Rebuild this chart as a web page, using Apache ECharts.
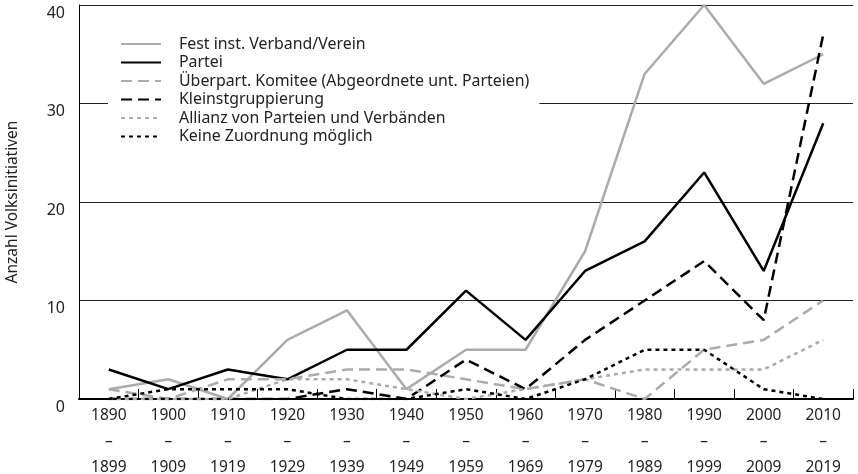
<!DOCTYPE html>
<html>
<head>
<meta charset="utf-8">
<script src="https://cdn.jsdelivr.net/npm/echarts@6/dist/echarts.min.js"></script>
<style>
  html, body { margin: 0; padding: 0; background: #fff; }
  #chart { width: 858px; height: 474px; }
</style>
</head>
<body>
<div id="chart"></div>
<script>
const decades = ['1890', '1900', '1910', '1920', '1930', '1940', '1950', '1960', '1970', '1980', '1990', '2000', '2010'];
const decadeEnds = ['1899', '1909', '1919', '1929', '1939', '1949', '1959', '1969', '1979', '1989', '1999', '2009', '2019'];

const verband = [1, 2, 0, 6, 9, 1, 5, 5, 15, 33, 40, 32, 35];
const partei = [3, 1, 3, 2, 5, 5, 11, 6, 13, 16, 23, 13, 28];
const komitee = [1, 0, 2, 2, 3, 3, 2, 1, 2, 0, 5, 6, 10];
const kleinst = [0, 0, 0, 0, 1, 0, 4, 1, 6, 10, 14, 8, 37];
const allianz = [0, 0, 0, 2, 2, 1, 0, 1, 2, 3, 3, 3, 6];
const keine = [0, 1, 1, 1, 0, 0, 1, 0, 2, 5, 5, 1, 0];

const GRAY = '#ababab';
const FONT = '"Noto Sans", sans-serif';

const chart = echarts.init(document.getElementById('chart'));

const mkSeries = (name, data, color, type) => ({
  name,
  type: 'line',
  data,
  symbol: 'none',
  lineStyle: { color, width: 2.5, type },
  itemStyle: { color }
});

const option = {
  animation: false,
  textStyle: { fontFamily: FONT },
  grid: { left: 79, right: 5, top: 5, bottom: 75, outerBoundsMode: 'none' },
  legend: {
    orient: 'vertical',
    left: 108,
    top: 34,
    backgroundColor: '#fff',
    padding: [2, 10, 4, 12],
    itemWidth: 40,
    itemHeight: 10,
    itemGap: 2.5,
    itemStyle: { opacity: 0 },
    textStyle: { color: '#222', fontSize: 15.9, fontFamily: FONT, padding: [0, 0, 0, 13] },
    data: ['Fest inst. Verband/Verein', 'Partei', 'Überpart. Komitee (Abgeordnete unt. Parteien)', 'Kleinstgruppierung', 'Allianz von Parteien und Verbänden', 'Keine Zuordnung möglich']
  },
  xAxis: {
    type: 'category',
    data: decades,
    boundaryGap: true,
    axisLine: { lineStyle: { color: '#000', width: 2 } },
    axisTick: { show: true, inside: true, length: 10, lineStyle: { color: '#000' } },
    axisLabel: {
      color: '#222',
      fontSize: 15.5,
      lineHeight: 26,
      margin: 4,
      formatter: (v, i) => v + '\n–\n' + decadeEnds[i]
    }
  },
  yAxis: {
    type: 'value',
    min: 0,
    max: 40,
    interval: 10,
    name: 'Anzahl Volksinitiativen',
    nameLocation: 'middle',
    nameGap: 58,
    nameTextStyle: { color: '#222', fontSize: 15.5 },
    axisLine: { show: true, lineStyle: { color: '#000' } },
    axisTick: { show: false },
    axisLabel: { color: '#222', fontSize: 16, margin: 14, verticalAlign: 'top' },
    splitLine: { lineStyle: { color: '#222', width: 1 } }
  },
  series: [
    mkSeries('Fest inst. Verband/Verein', verband, GRAY, 'solid'),
    mkSeries('Partei', partei, '#000', 'solid'),
    mkSeries('Überpart. Komitee (Abgeordnete unt. Parteien)', komitee, GRAY, [11, 6]),
    mkSeries('Kleinstgruppierung', kleinst, '#000', [11, 6]),
    mkSeries('Allianz von Parteien und Verbänden', allianz, GRAY, [4, 4]),
    mkSeries('Keine Zuordnung möglich', keine, '#000', [4, 4])
  ]
};

chart.setOption(option);
</script>
</body>
</html>
